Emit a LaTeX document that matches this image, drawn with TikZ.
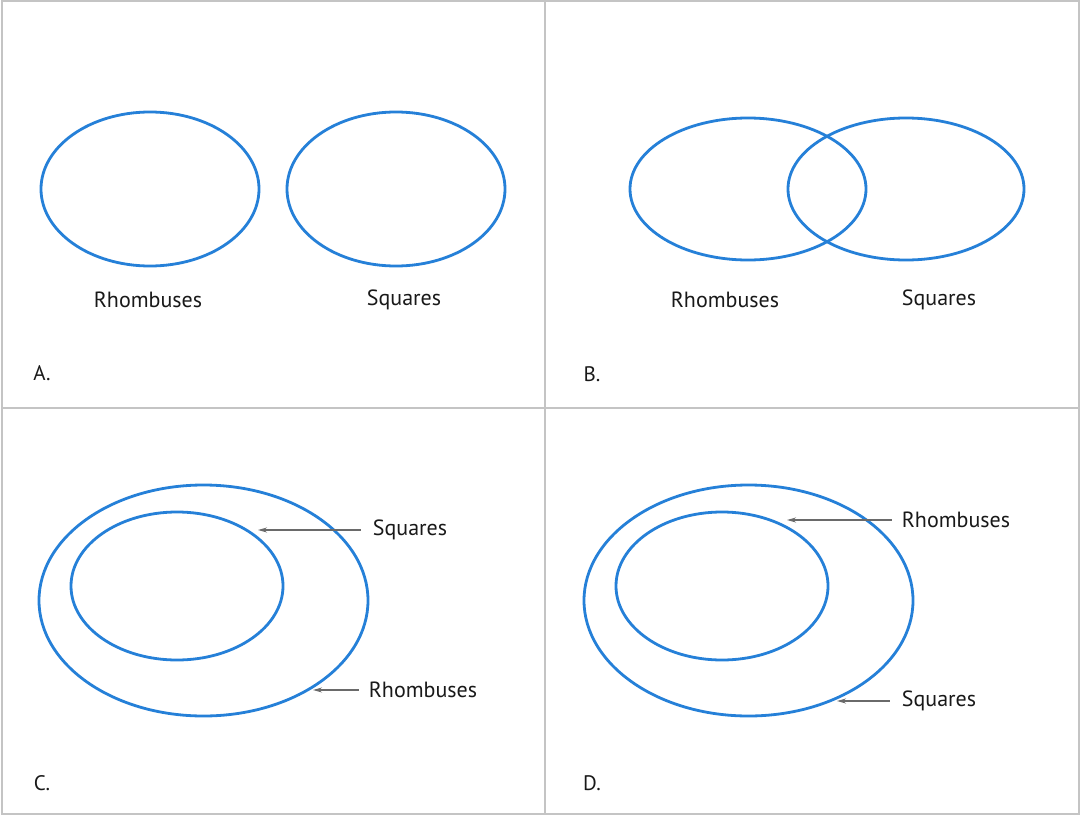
\documentclass[tikz,border=0pt]{standalone}
\usepackage{fontspec}
\setmainfont{PT Sans}
\usetikzlibrary{arrows.meta}
\definecolor{vblue}{HTML}{2580D8}
\definecolor{frame}{HTML}{C4C4C4}
\definecolor{arr}{HTML}{6A6A6A}
\begin{document}
\begin{tikzpicture}[x=1pt,y=-1pt,
  set/.style={draw=vblue,line width=2.8pt},
  lbl/.style={font=\fontsize{22}{26}\selectfont,text=black!90,inner sep=0pt},
  tag/.style={font=\fontsize{21}{25}\selectfont,text=black!90,inner sep=0pt},
  pointer/.style={draw=arr,line width=1.2pt,-{Stealth[length=9pt,width=5pt]}}]
\path[fill=white] (0,0) rectangle (1081,816);
\useasboundingbox (0,0) rectangle (1081,816);
% frame
\draw[frame,line width=1.8pt] (2,1) rectangle (1079,814);
\draw[frame,line width=1.8pt] (545,1) -- (545,814);
\draw[frame,line width=1.8pt] (2,408) -- (1079,408);
% A
\draw[set] (150,189) ellipse [x radius=109,y radius=77];
\draw[set] (396,189) ellipse [x radius=109,y radius=77];
\node[lbl] (a1) at (148,300) {Rhombuses};
\node[lbl] (a2) at (404,300) {Squares};
\node[tag] (A) at (42,373) {A.};
% B
\draw[set] (748,189) ellipse [x radius=118,y radius=71];
\draw[set] (906,189) ellipse [x radius=118,y radius=71];
\node[lbl] (b1) at (725,300) {Rhombuses};
\node[lbl] (b2) at (939,300) {Squares};
\node[tag] (B) at (592,374) {B.};
% C
\draw[set] (203.5,600.5) ellipse [x radius=164.5,y radius=115.5];
\draw[set] (177,586) ellipse [x radius=106,y radius=74];
\node[lbl] (c1) at (410,530) {Squares};
\node[lbl] (c2) at (423,690) {Rhombuses};
\coordinate (c1t) at (258,530);
\coordinate (c2t) at (313,690);
\draw[pointer] ([xshift=-12pt]c1.west) -- (c1t);
\draw[pointer] ([xshift=-10pt]c2.west) -- (c2t);
\node[tag] (C) at (42,783) {C.};
% D
\draw[set] (748.5,600.5) ellipse [x radius=164.5,y radius=115.5];
\draw[set] (722,586) ellipse [x radius=106,y radius=74];
\node[lbl] (d1) at (956,520) {Rhombuses};
\node[lbl] (d2) at (939,701) {Squares};
\coordinate (d1t) at (787,520);
\coordinate (d2t) at (837,701);
\draw[pointer] ([xshift=-10pt]d1.west) -- (d1t);
\draw[pointer] ([xshift=-12pt]d2.west) -- (d2t);
\node[tag] (D) at (592,783) {D.};
\end{tikzpicture}
\end{document}
